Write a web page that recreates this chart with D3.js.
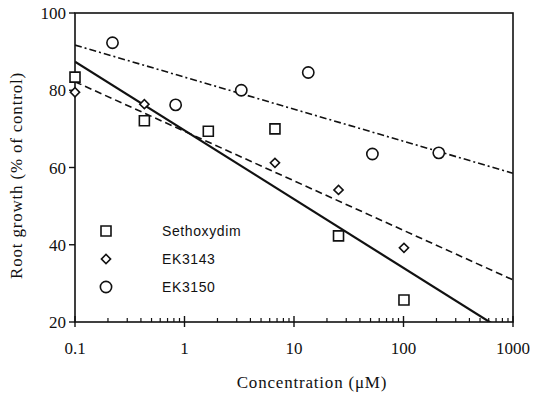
<!DOCTYPE html>
<html lang="en">
<head>
<meta charset="UTF-8">
<title>Root growth vs concentration</title>
<script src="https://cdn.jsdelivr.net/npm/d3@7"></script>
<style>
    body { margin: 0; background: #fff; }
    text { font-family: "Liberation Serif", serif; fill: #111; }
    .legend text { font-family: "Liberation Sans", sans-serif; font-size: 14px; letter-spacing: 0.6px; }
    .marker { fill: none; stroke: #111; stroke-width: 1.6; }
</style>
</head>
<body>
<svg width="537" height="396"></svg>
<script>
    // concentrations (uM) and root growth (% of control)
    const sethoxydimConc   = [0.1, 0.43, 1.65, 6.7, 25.5, 101];
    const sethoxydimGrowth = [83.4, 72.1, 69.4, 70, 42.3, 25.7];

    const ek3143Conc   = [0.1, 0.43, 6.7, 25.5, 101];
    const ek3143Growth = [79.5, 76.4, 61.2, 54.2, 39.2];

    const ek3150Conc   = [0.22, 0.83, 3.3, 13.5, 52, 210];
    const ek3150Growth = [92.3, 76.2, 80, 84.6, 63.5, 63.8];

    // regression lines: growth at 0.1 uM and at 1000 uM
    const lineNames = ["Sethoxydim", "EK3143", "EK3150"];
    const lineStart = [87.4, 82.2, 91.7];
    const lineEnd   = [16.2, 30.9, 58.5];

    const xTicks = [0.1, 1, 10, 100, 1000];
    const yTicks = [20, 40, 60, 80, 100];

    const svg = d3.select("svg");
    const m = {left: 75, right: 513, top: 13, bottom: 322};

    const x = d3.scaleLog().domain([0.1, 1000]).range([m.left, m.right]);
    const y = d3.scaleLinear().domain([20, 100]).range([m.bottom, m.top]);

    // clip the regression lines to the plot box
    svg.append("clipPath").attr("id", "plot")
       .append("rect")
          .attr("x", m.left).attr("y", m.top)
          .attr("width", m.right - m.left).attr("height", m.bottom - m.top);

    // frame
    svg.append("rect")
       .attr("x", m.left).attr("y", m.top)
       .attr("width", m.right - m.left).attr("height", m.bottom - m.top)
       .attr("fill", "none").attr("stroke", "#111").attr("stroke-width", 1.6);

    // x axis: major ticks cross, minor ticks inside
    const minor = [];
    for (let d = 0.1; d < 1000; d *= 10)
        for (let k = 2; k <= 9; k++) minor.push(d * k);

    svg.selectAll("line.minor")
       .data(minor)
          .join("line").attr("class", "minor")
            .attr("x1", d => x(d)).attr("x2", d => x(d))
            .attr("y1", m.bottom).attr("y2", m.bottom - 4)
            .attr("stroke", "#111").attr("stroke-width", 1.2);

    svg.selectAll("line.xmajor")
       .data(xTicks)
          .join("line").attr("class", "xmajor")
            .attr("x1", d => x(d)).attr("x2", d => x(d))
            .attr("y1", m.bottom - 6).attr("y2", m.bottom + 5)
            .attr("stroke", "#111").attr("stroke-width", 1.4);

    svg.selectAll("text.xlab")
       .data(xTicks)
          .join("text").attr("class", "xlab")
            .attr("x", d => x(d)).attr("y", m.bottom + 32)
            .attr("text-anchor", "middle")
            .style("font-size", "17px")
            .text(d => d);

    // y axis
    svg.selectAll("line.ymajor")
       .data(yTicks)
          .join("line").attr("class", "ymajor")
            .attr("x1", m.left - 6).attr("x2", m.left)
            .attr("y1", d => y(d)).attr("y2", d => y(d))
            .attr("stroke", "#111").attr("stroke-width", 1.4);

    svg.selectAll("text.ylab")
       .data(yTicks)
          .join("text").attr("class", "ylab")
            .attr("x", m.left - 9).attr("y", d => y(d) + 6)
            .attr("text-anchor", "end")
            .style("font-size", "17px")
            .text(d => d);

    // axis titles
    svg.append("text")
       .attr("x", (m.left + m.right) / 2 + 18).attr("y", 388)
       .attr("text-anchor", "middle")
       .style("font-size", "17px")
       .style("letter-spacing", "0.8px")
       .text("Concentration  (\u03BCM)");

    svg.append("text")
       .attr("transform", `translate(22,${(m.top + m.bottom) / 2 + 8}) rotate(-90)`)
       .attr("text-anchor", "middle")
       .style("font-size", "17px")
       .style("letter-spacing", "0.8px")
       .text("Root growth (% of control)");

    // regression lines
    const dashes = ["none", "7,4", "7,3,2,3"];
    const widths = [2.2, 1.6, 1.6];
    svg.append("g").attr("clip-path", "url(#plot)")
       .selectAll("line.fit")
       .data(lineNames)
          .join("line").attr("class", "fit")
            .attr("x1", x(0.1)).attr("x2", x(1000))
            .attr("y1", (d, i) => y(lineStart[i]))
            .attr("y2", (d, i) => y(lineEnd[i]))
            .attr("stroke", "#111")
            .attr("stroke-width", (d, i) => widths[i])
            .attr("stroke-dasharray", (d, i) => dashes[i]);

    // markers; the diamond is a square turned by 45 degrees
    const sq = d3.symbol().type(d3.symbolSquare).size(100);
    const di = d3.symbol().type(d3.symbolSquare).size(42);
    const ci = d3.symbol().type(d3.symbolCircle).size(100);
    const rot = [0, 45, 0];

    function plot(conc, growth, sym, r, cls) {
        svg.selectAll("path." + cls)
           .data(conc.map((c, i) => [c, growth[i]]))
              .join("path").attr("class", "marker " + cls)
                .attr("transform", d => `translate(${x(d[0])},${y(d[1])}) rotate(${r})`)
                .attr("d", sym)
                .style("fill", "#fff");
    }
    plot(sethoxydimConc, sethoxydimGrowth, sq, 0, "seth");
    plot(ek3143Conc, ek3143Growth, di, 45, "ek43");
    plot(ek3150Conc, ek3150Growth, ci, 0, "ek50");

    // legend
    const legend = svg.append("g").attr("class", "legend");
    const syms = [sq, di, ci];
    legend.selectAll("path")
       .data(lineNames)
          .join("path").attr("class", "marker")
            .attr("transform", (d, i) => `translate(106,${231 + i * 28}) rotate(${rot[i]})`)
            .attr("d", (d, i) => syms[i]());
    legend.selectAll("text")
       .data(lineNames)
          .join("text")
            .attr("x", 162).attr("y", (d, i) => 236 + i * 28)
            .text(d => d);
</script>
</body>
</html>
